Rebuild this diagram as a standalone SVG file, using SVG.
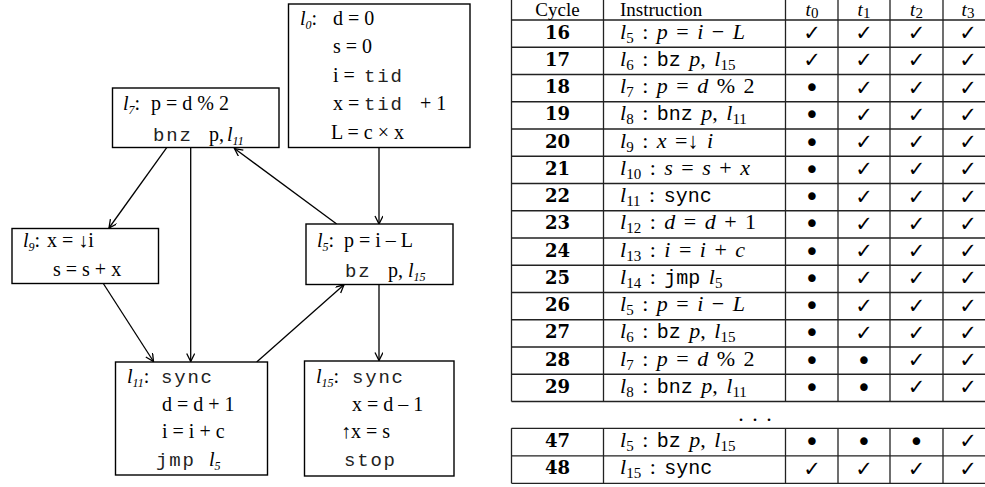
<svg xmlns="http://www.w3.org/2000/svg" width="985" height="487" viewBox="0 0 985 487">
<defs>
<style>
.box{fill:#fff;stroke:#000;stroke-width:1.4}
.g{font-family:"Liberation Serif","Times New Roman",serif;font-size:20px;fill:#000}
.it{font-style:italic}
.gs{font-size:12px;font-style:italic}
.mono{font-family:"Liberation Mono","Courier New",monospace;font-size:19px;letter-spacing:1.8px;fill:#222}
.edge{fill:none;stroke:#000;stroke-width:1.3;marker-end:url(#ah)}
.tl{stroke:#222;stroke-width:1.3;fill:none}
.num{font-family:"DejaVu Serif","Liberation Serif",serif;font-weight:bold;font-size:18px;text-anchor:middle}
.m{font-family:"Liberation Serif","Times New Roman",serif;font-size:22px;word-spacing:3px}
.mi{font-style:italic}
.ms{font-size:15px;word-spacing:0}
.tt{font-family:"Liberation Mono","Courier New",monospace;font-size:20px}
.ck{font-family:"DejaVu Sans",sans-serif;font-size:21px;text-anchor:middle}
.bu{font-family:"DejaVu Sans",sans-serif;font-size:26px;text-anchor:middle}
.hd{font-family:"Liberation Serif","Times New Roman",serif;font-size:19px}
.th{font-family:"Liberation Serif","Times New Roman",serif;font-size:19px}
</style>
<marker id="ah" markerWidth="10" markerHeight="10" refX="9" refY="4" orient="auto" markerUnits="userSpaceOnUse">
<path d="M1,0 L9,4 L1,8" fill="none" stroke="#000" stroke-width="1.3"/>
</marker>
</defs>
<rect width="985" height="487" fill="#fff"/>

<g id="connectors">
<path class="edge" d="M379,147.7 L379,224"/>
<path class="edge" d="M166.7,147.7 L109,228"/>
<path class="edge" d="M190.7,147.7 L190.7,361.5"/>
<path class="edge" d="M336.7,224 L234.5,148.5"/>
<path class="edge" d="M103.3,283.5 L153.5,361.5"/>
<path class="edge" d="M256.7,362 L344,284.8"/>
<path class="edge" d="M379,284.5 L379,360.5"/>
</g>

<g id="l0">
<rect class="box" x="288.5" y="4" width="181.5" height="143.5"/>
<text class="g" y="25"><tspan x="300" class="it">l</tspan><tspan class="gs" dy="4">0</tspan><tspan dy="-4">:</tspan><tspan x="333">d = 0</tspan></text>
<text class="g" x="333" y="53">s = 0</text>
<text class="g" y="82"><tspan x="333">i =</tspan><tspan x="364" class="mono">tid</tspan></text>
<text class="g" y="110"><tspan x="333">x =</tspan><tspan x="364" class="mono">tid</tspan><tspan x="420">+ 1</tspan></text>
<text class="g" x="331" y="139">L = c × x</text>
</g>

<g id="l7">
<rect class="box" x="112.5" y="88" width="166.5" height="59.5"/>
<text class="g" y="110"><tspan x="123" class="it">l</tspan><tspan class="gs" dy="4">7</tspan><tspan dy="-4">:</tspan><tspan x="151">p = d % 2</tspan></text>
<text class="g" y="141"><tspan x="153" class="mono">bnz</tspan><tspan x="209">p,</tspan><tspan x="227" class="it">l</tspan><tspan class="gs" dy="4">11</tspan></text>
</g>

<g id="l9">
<rect class="box" x="12" y="228.5" width="146.5" height="55"/>
<text class="g" y="247"><tspan x="23" class="it">l</tspan><tspan class="gs" dy="4">9</tspan><tspan dy="-4">:</tspan><tspan x="47">x = ↓i</tspan></text>
<text class="g" x="53" y="276">s = s + x</text>
</g>

<g id="l5">
<rect class="box" x="306" y="224" width="147" height="60.5"/>
<text class="g" y="247"><tspan x="317" class="it">l</tspan><tspan class="gs" dy="4">5</tspan><tspan dy="-4">:</tspan><tspan x="344">p = i – L</tspan></text>
<text class="g" y="277"><tspan x="345" class="mono">bz</tspan><tspan x="388">p,</tspan><tspan x="408" class="it">l</tspan><tspan class="gs" dy="4">15</tspan></text>
</g>

<g id="l11">
<rect class="box" x="115.5" y="362" width="152" height="113"/>
<text class="g" y="383"><tspan x="127" class="it">l</tspan><tspan class="gs" dy="4">11</tspan><tspan dy="-4">:</tspan><tspan x="161" class="mono">sync</tspan></text>
<text class="g" x="162" y="411">d = d + 1</text>
<text class="g" x="162" y="438">i = i + c</text>
<text class="g" y="466"><tspan x="156" class="mono">jmp</tspan><tspan x="209" class="it">l</tspan><tspan class="gs" dy="4">5</tspan></text>
</g>

<g id="l15">
<rect class="box" x="304.5" y="361" width="149.5" height="115"/>
<text class="g" y="383"><tspan x="316" class="it">l</tspan><tspan class="gs" dy="4">15</tspan><tspan dy="-4">:</tspan><tspan x="352" class="mono">sync</tspan></text>
<text class="g" x="352" y="411">x = d – 1</text>
<text class="g" x="341" y="438">↑x = s</text>
<text class="g" x="344" y="466"><tspan class="mono">stop</tspan></text>
</g>

<g id="table">
<path class="tl" d="M511.5,-2 V401.5 M603.5,-2 V401.5 M785.5,-2 V401.5 M838,-2 V401.5 M890,-2 V401.5 M943,-2 V401.5"/>
<path class="tl" d="M511.5,20 H990 M511.5,47.25 H990 M511.5,74.5 H990 M511.5,101.75 H990 M511.5,129 H990 M511.5,156.25 H990 M511.5,183.5 H990 M511.5,210.75 H990 M511.5,238 H990 M511.5,265.25 H990 M511.5,292.5 H990 M511.5,319.75 H990 M511.5,347 H990 M511.5,374.25 H990 M511.5,401.5 H990"/>
<path class="tl" d="M511.5,428.3 V483.3 M603.5,428.3 V483.3 M785.5,428.3 V483.3 M838,428.3 V483.3 M890,428.3 V483.3 M943,428.3 V483.3 M511.5,428.3 H990 M511.5,455.8 H990 M511.5,483.3 H990"/>

<text class="hd" x="557.5" y="15.5" text-anchor="middle">Cycle</text>
<text class="hd" x="620" y="15.5">Instruction</text>
<text class="th" x="812" y="15.5" text-anchor="middle"><tspan class="mi">t</tspan><tspan class="ms" dy="2">0</tspan></text>
<text class="th" x="864" y="15.5" text-anchor="middle"><tspan class="mi">t</tspan><tspan class="ms" dy="2">1</tspan></text>
<text class="th" x="916.5" y="15.5" text-anchor="middle"><tspan class="mi">t</tspan><tspan class="ms" dy="2">2</tspan></text>
<text class="th" x="968" y="15.5" text-anchor="middle"><tspan class="mi">t</tspan><tspan class="ms" dy="2">3</tspan></text>

<g class="num">
<text x="557.5" y="38.5">16</text>
<text x="557.5" y="65.75">17</text>
<text x="557.5" y="93">18</text>
<text x="557.5" y="120.25">19</text>
<text x="557.5" y="147.5">20</text>
<text x="557.5" y="174.75">21</text>
<text x="557.5" y="202">22</text>
<text x="557.5" y="229.25">23</text>
<text x="557.5" y="256.5">24</text>
<text x="557.5" y="283.75">25</text>
<text x="557.5" y="311">26</text>
<text x="557.5" y="338.25">27</text>
<text x="557.5" y="365.5">28</text>
<text x="557.5" y="392.75">29</text>
<text x="557.5" y="446.8">47</text>
<text x="557.5" y="474.3">48</text>
</g>

<g class="m">
<text x="620" y="38.5"><tspan class="mi">l</tspan><tspan class="ms" dy="4">5</tspan><tspan dy="-4"> : </tspan><tspan class="mi">p</tspan> = <tspan class="mi">i</tspan> − <tspan class="mi">L</tspan></text>
<text x="620" y="65.75"><tspan class="mi">l</tspan><tspan class="ms" dy="4">6</tspan><tspan dy="-4"> : </tspan><tspan class="tt">bz</tspan> <tspan class="mi">p</tspan>, <tspan class="mi">l</tspan><tspan class="ms" dy="4">15</tspan></text>
<text x="620" y="93"><tspan class="mi">l</tspan><tspan class="ms" dy="4">7</tspan><tspan dy="-4"> : </tspan><tspan class="mi">p</tspan> = <tspan class="mi">d</tspan> % 2</text>
<text x="620" y="120.25"><tspan class="mi">l</tspan><tspan class="ms" dy="4">8</tspan><tspan dy="-4"> : </tspan><tspan class="tt">bnz</tspan> <tspan class="mi">p</tspan>, <tspan class="mi">l</tspan><tspan class="ms" dy="4">11</tspan></text>
<text x="620" y="147.5"><tspan class="mi">l</tspan><tspan class="ms" dy="4">9</tspan><tspan dy="-4"> : </tspan><tspan class="mi">x</tspan> =↓ <tspan class="mi">i</tspan></text>
<text x="620" y="174.75"><tspan class="mi">l</tspan><tspan class="ms" dy="4">10</tspan><tspan dy="-4"> : </tspan><tspan class="mi">s</tspan> = <tspan class="mi">s</tspan> + <tspan class="mi">x</tspan></text>
<text x="620" y="202"><tspan class="mi">l</tspan><tspan class="ms" dy="4">11</tspan><tspan dy="-4"> : </tspan><tspan class="tt">sync</tspan></text>
<text x="620" y="229.25"><tspan class="mi">l</tspan><tspan class="ms" dy="4">12</tspan><tspan dy="-4"> : </tspan><tspan class="mi">d</tspan> = <tspan class="mi">d</tspan> + 1</text>
<text x="620" y="256.5"><tspan class="mi">l</tspan><tspan class="ms" dy="4">13</tspan><tspan dy="-4"> : </tspan><tspan class="mi">i</tspan> = <tspan class="mi">i</tspan> + <tspan class="mi">c</tspan></text>
<text x="620" y="283.75"><tspan class="mi">l</tspan><tspan class="ms" dy="4">14</tspan><tspan dy="-4"> : </tspan><tspan class="tt">jmp</tspan> <tspan class="mi">l</tspan><tspan class="ms" dy="4">5</tspan></text>
<text x="620" y="311"><tspan class="mi">l</tspan><tspan class="ms" dy="4">5</tspan><tspan dy="-4"> : </tspan><tspan class="mi">p</tspan> = <tspan class="mi">i</tspan> − <tspan class="mi">L</tspan></text>
<text x="620" y="338.25"><tspan class="mi">l</tspan><tspan class="ms" dy="4">6</tspan><tspan dy="-4"> : </tspan><tspan class="tt">bz</tspan> <tspan class="mi">p</tspan>, <tspan class="mi">l</tspan><tspan class="ms" dy="4">15</tspan></text>
<text x="620" y="365.5"><tspan class="mi">l</tspan><tspan class="ms" dy="4">7</tspan><tspan dy="-4"> : </tspan><tspan class="mi">p</tspan> = <tspan class="mi">d</tspan> % 2</text>
<text x="620" y="392.75"><tspan class="mi">l</tspan><tspan class="ms" dy="4">8</tspan><tspan dy="-4"> : </tspan><tspan class="tt">bnz</tspan> <tspan class="mi">p</tspan>, <tspan class="mi">l</tspan><tspan class="ms" dy="4">11</tspan></text>
<text x="620" y="446.8"><tspan class="mi">l</tspan><tspan class="ms" dy="4">5</tspan><tspan dy="-4"> : </tspan><tspan class="tt">bz</tspan> <tspan class="mi">p</tspan>, <tspan class="mi">l</tspan><tspan class="ms" dy="4">15</tspan></text>
<text x="620" y="474.3"><tspan class="mi">l</tspan><tspan class="ms" dy="4">15</tspan><tspan dy="-4"> : </tspan><tspan class="tt">sync</tspan></text>
</g>

<text class="m" x="755" y="421" text-anchor="middle">. . .</text>

<g class="ck">
<text x="812" y="40">✓</text><text x="864" y="40">✓</text><text x="916.5" y="40">✓</text><text x="968" y="40">✓</text>
<text x="812" y="67.25">✓</text><text x="864" y="67.25">✓</text><text x="916.5" y="67.25">✓</text><text x="968" y="67.25">✓</text>
<text x="864" y="94.5">✓</text><text x="916.5" y="94.5">✓</text><text x="968" y="94.5">✓</text>
<text x="864" y="121.75">✓</text><text x="916.5" y="121.75">✓</text><text x="968" y="121.75">✓</text>
<text x="864" y="149">✓</text><text x="916.5" y="149">✓</text><text x="968" y="149">✓</text>
<text x="864" y="176.25">✓</text><text x="916.5" y="176.25">✓</text><text x="968" y="176.25">✓</text>
<text x="864" y="203.5">✓</text><text x="916.5" y="203.5">✓</text><text x="968" y="203.5">✓</text>
<text x="864" y="230.75">✓</text><text x="916.5" y="230.75">✓</text><text x="968" y="230.75">✓</text>
<text x="864" y="258">✓</text><text x="916.5" y="258">✓</text><text x="968" y="258">✓</text>
<text x="864" y="285.25">✓</text><text x="916.5" y="285.25">✓</text><text x="968" y="285.25">✓</text>
<text x="864" y="312.5">✓</text><text x="916.5" y="312.5">✓</text><text x="968" y="312.5">✓</text>
<text x="864" y="339.75">✓</text><text x="916.5" y="339.75">✓</text><text x="968" y="339.75">✓</text>
<text x="916.5" y="367">✓</text><text x="968" y="367">✓</text>
<text x="916.5" y="394.25">✓</text><text x="968" y="394.25">✓</text>
<text x="968" y="448.3">✓</text>
<text x="812" y="475.8">✓</text><text x="864" y="475.8">✓</text><text x="916.5" y="475.8">✓</text><text x="968" y="475.8">✓</text>
</g>

<g class="bu">
<text x="812" y="97">•</text>
<text x="812" y="124.25">•</text>
<text x="812" y="151.5">•</text>
<text x="812" y="178.75">•</text>
<text x="812" y="206">•</text>
<text x="812" y="233.25">•</text>
<text x="812" y="260.5">•</text>
<text x="812" y="287.75">•</text>
<text x="812" y="315">•</text>
<text x="812" y="342.25">•</text>
<text x="812" y="369.5">•</text><text x="864" y="369.5">•</text>
<text x="812" y="396.75">•</text><text x="864" y="396.75">•</text>
<text x="812" y="450.8">•</text><text x="864" y="450.8">•</text><text x="916.5" y="450.8">•</text>
</g>
</g>
</svg>
